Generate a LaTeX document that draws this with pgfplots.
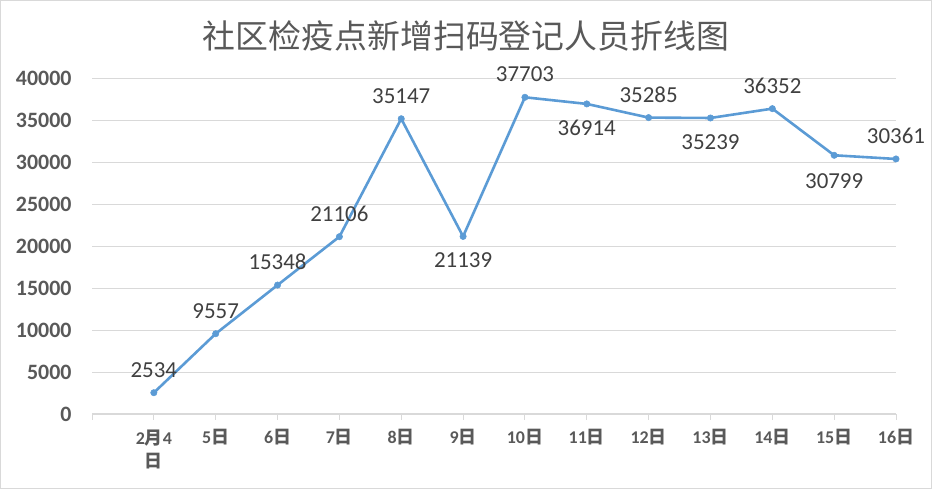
\documentclass[border=0pt]{standalone}
\usepackage{pgfplots}
\pgfplotsset{compat=1.18}
\usepackage{pgfplotstable}
\usepackage{fontspec}
\setmainfont{Carlito}
\newfontfamily\cjk{Noto Sans CJK SC}
\newcommand\R{{\cjk 日}}
\newcommand\Y{{\cjk 月}}
\definecolor{lineblue}{RGB}{91,155,213}
\definecolor{txt}{RGB}{89,89,89}
\definecolor{lab}{RGB}{64,64,64}
\definecolor{gridc}{RGB}{217,217,217}
\pgfplotstableread{
x y lbl dy
1 2534 2534 23
2 9557 9557 23
3 15348 15348 23
4 21106 21106 23
5 35147 35147 23
6 21139 21139 -24
7 37703 37703 23
8 36914 36914 -24
9 35285 35285 23
10 35239 35239 -24
11 36352 36352 23
12 30799 30799 -26
13 30361 30361 23
}\datatable
\begin{document}
\begin{tikzpicture}[x=1bp,y=1bp]
\path[use as bounding box, draw=gridc, line width=1bp] (0.5,0.5) rectangle (931.5,488.5);
\node[color=txt, font=\cjk\fontsize{33}{33}\selectfont] at (466,453) {社区检疫点新增扫码登记人员折线图};
\begin{axis}[
  at={(92bp,75bp)}, anchor=south west,
  scale only axis, width=804bp, height=336bp,
  xmin=0, xmax=13, ymin=0, ymax=40000,
  clip=false,
  axis lines=left,
  axis line style={-},
  y axis line style={draw=none},
  x axis line style={draw=gridc, line width=1bp},
  ymajorgrids, grid style={gridc, line width=0.8bp},
  ytick={0,5000,...,40000},
  scaled y ticks=false,
  yticklabel={\pgfmathprintnumber[fixed,precision=0,1000 sep={}]{\tick}},
  ytick style={draw=none},
  xtick={0,...,13},
  xtick style={draw=gridc, line width=1bp},
  tick align=outside, major tick length=6bp,
  xticklabels={{},{2\Y4\\\R},5\R,6\R,7\R,8\R,9\R,10\R,11\R,12\R,13\R,14\R,15\R,16\R},
  xticklabel style={align=center, font=\bfseries\fontsize{18}{24}\selectfont, color=txt, yshift=-6bp},
  yticklabel style={font=\bfseries\fontsize{22}{22}\selectfont, color=txt, xshift=-11bp},
  /pgf/number format/assume math mode=true,
  /pgf/number format/1000 sep={},
]
\addplot[color=lineblue, line width=2.6bp, mark=*, mark size=3.2bp, mark options={solid, fill=lineblue, draw=lineblue, line width=0.5bp},
  nodes near coords, point meta=explicit symbolic,
  visualization depends on={\thisrow{dy}\as\dy},
  every node near coord/.append style={anchor=center, yshift=\dy bp, font=\fontsize{23}{23}\selectfont, color=lab}]
  table[x=x, y=y, meta=lbl] {\datatable};
\end{axis}
\end{tikzpicture}
\end{document}
